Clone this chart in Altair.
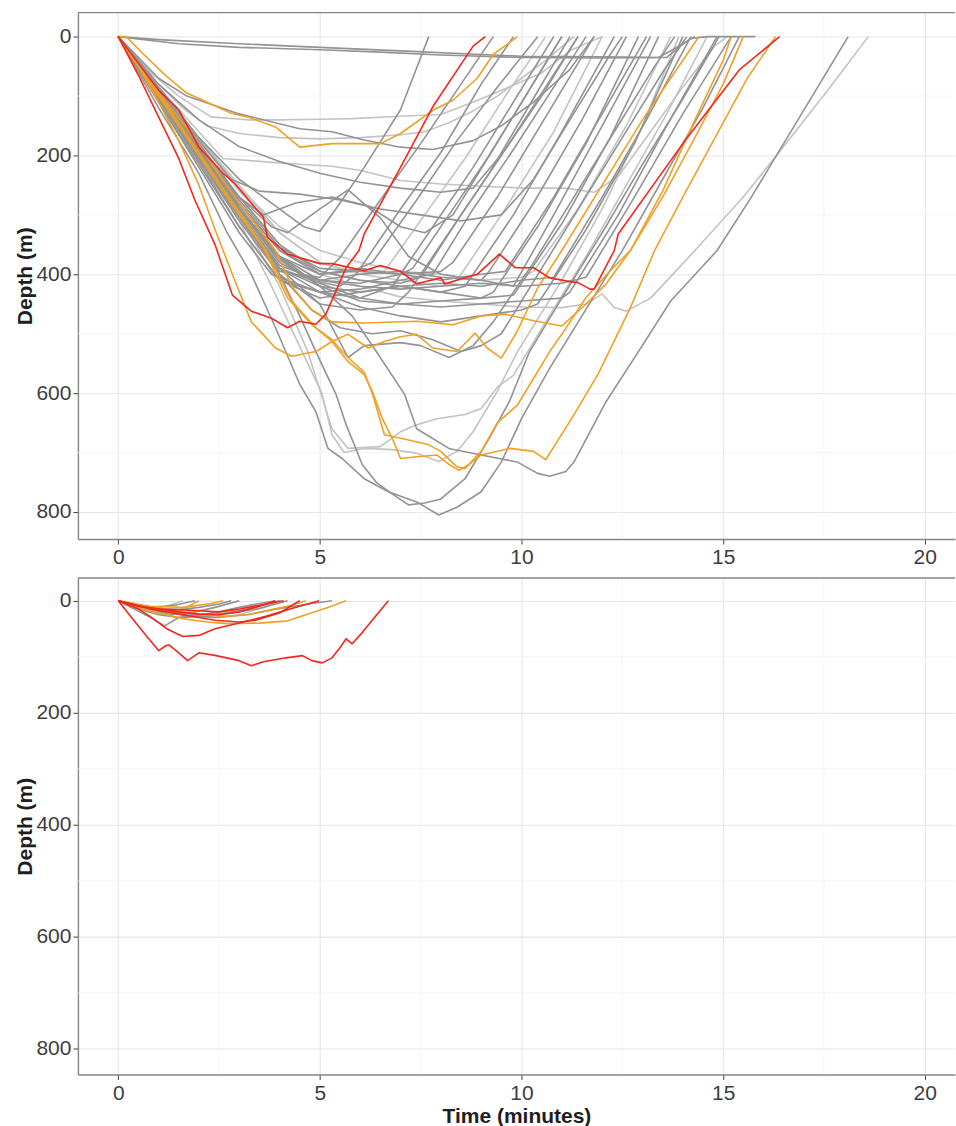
import altair as alt
import pandas as pd

# ---------------- axes / grid values ----------------
x_ticks = [0, 5, 10, 15, 20]
y_ticks = [0, 200, 400, 600, 800]
x_minor = [2.5, 7.5, 12.5, 17.5]
y_minor = [100, 300, 500, 700]
x_domain = [-1.0, 20.75]
y_domain = [-40.5, 845.5]

group_names = ["light", "dark", "orange", "red"]
group_colors = ["#c3c3c3", "#939393", "#efa126", "#f2271d"]

# ---------------- top panel dives: [time (min), depth (m)] ----------------
top_l1 = [[0,0],[0.4,30],[0.8,60],[1.5,100],[2.3,135],[3.2,140],[4.0,140],[5.0,139],[5.8,138],[7.0,134],[8.0,131],[9.0,105],[10.5,61],[11.25,22],[12.0,0]]
top_l2 = [[0,0],[0.5,40],[1.0,80],[1.6,120],[2.2,150],[3.0,163],[4.0,170],[5.0,172],[6.0,170],[7.0,165],[7.6,160],[8.2,145],[8.8,125],[9.4,100],[10.0,70],[10.6,40],[11.3,0]]
top_l3 = [[0,0],[0.5,45],[1.0,85],[2.0,160],[2.6,205],[3.5,210],[4.3,214],[5.3,218],[6.0,225],[7.0,242],[8.0,248],[9.4,253],[10.2,255],[11.1,255],[11.8,262],[12.4,235],[13.2,160],[14.0,85],[14.8,15],[15.1,0]]
top_ldeep1 = [[0,0],[1,105],[2,210],[3,310],[3.8,420],[4.56,530],[5.05,600],[5.3,670],[5.6,700],[6.1,693],[6.8,695],[7.4,701],[7.95,715],[8.4,698],[8.8,665],[9.4,597],[9.9,530],[11.0,410],[12.0,290],[13.0,150],[13.9,0]]
top_ldeep2 = [[0,0],[1,100],[2,200],[3,300],[4,420],[4.7,530],[5.3,660],[5.7,693],[6.5,690],[7.0,665],[7.4,653],[7.9,643],[8.6,636],[9.0,626],[9.4,590],[9.8,570],[10.6,480],[11.6,370],[12.6,250],[13.6,130],[14.6,0]]
top_lfar = [[0,0],[1,90],[2,180],[3,270],[4,350],[5,400],[6,420],[7,438],[8,445],[9,450],[10,455],[11.0,456],[11.6,450],[12.0,433],[12.3,456],[12.6,462],[13.2,440],[13.6,411],[14.3,360],[15.5,270],[16.5,185],[17.6,90],[18.6,0]]
top_lc4 = [[0,0],[1,85],[2,170],[3,250],[4,330],[5,380],[6,400],[6.6,395],[7.6,300],[8.6,205],[9.6,100],[10.6,0]]
top_lc11 = [[0,0],[1,90],[2,175],[3,260],[4,330],[5,380],[6,400],[7,410],[8,420],[8.4,410],[9.5,300],[10.8,160],[12.0,0]]
top_lc17 = [[0,0],[1,85],[2,170],[3,255],[4,320],[5,360],[6,380],[7,395],[8,400],[9,410],[10,405],[10.3,395],[11.4,290],[12.6,150],[13.7,0]]

top_g1 = [[0,0],[1,5],[3,12],[5,18],[7,24],[9,30],[10,33],[12,34],[13.6,35],[13.9,18],[14.2,3],[14.6,0],[15.8,0]]
top_g2 = [[0,0],[1.5,12],[3,18],[5,22],[6.5,26],[8,31],[10,35],[12,36],[13.4,35],[13.8,20],[14.3,0]]
top_e1 = [[0,0],[1,85],[2,170],[3,240],[4,290],[4.6,320],[5.0,328],[5.5,280],[6.1,220],[7.0,123],[7.7,0]]
top_k4 = [[0,0],[1,95],[2,190],[3,270],[3.8,320],[4.2,330],[5.0,290],[5.7,258],[6.5,305],[7.2,370],[8,400],[9,410],[9.8,420],[10.8,300],[12,150],[13.2,0]]
top_k6 = [[0,0],[1,70],[1.7,100],[3,130],[4.5,155],[5.3,160],[6.1,174],[7.0,186],[7.8,190],[8.8,175],[9.5,150],[10.3,110],[11.2,55],[11.8,0]]
top_k7 = [[0,0],[1,80],[2,140],[3,185],[4,210],[5,230],[6,245],[7,255],[8,262],[8.8,255],[9.6,190],[10.5,100],[11.4,0]]
top_k8 = [[0,0],[1,90],[2,175],[2.8,240],[3.5,260],[4.5,265],[5.5,275],[6.5,290],[7.5,300],[8.5,310],[9.5,300],[10.3,240],[11.2,140],[12.2,30],[12.5,0]]
top_k9 = [[0,0],[1,95],[2,190],[3,270],[3.6,300],[4.4,280],[5.3,270],[6.2,285],[7,320],[7.6,330],[8.3,300],[9.2,200],[10.1,100],[11.0,0]]
top_d1 = [[0,0],[1,120],[2,230],[2.7,330],[3.3,400],[3.9,490],[4.5,585],[4.9,631],[5.2,693],[5.55,710],[6.1,744],[6.7,766],[7.4,783],[7.95,805],[8.4,792],[9.0,766],[9.5,716],[10.0,643],[10.7,558],[11.5,470],[12.5,360],[13.5,240],[14.5,120],[15.4,0]]
top_d2 = [[0,0],[1,100],[2,200],[3,300],[4,400],[4.5,470],[4.9,530],[5.4,602],[5.65,653],[6.05,720],[6.4,750],[6.8,770],[7.2,788],[7.6,785],[8.0,778],[8.6,744],[9.2,676],[9.7,614],[10.2,530],[11,440],[12,330],[13,215],[14,105],[14.9,0]]
top_dfar = [[0,0],[1,95],[2,190],[3,290],[4,370],[5,420],[5.8,470],[6.4,530],[7.1,602],[7.4,660],[8.2,693],[9.0,704],[9.9,716],[10.4,735],[10.7,740],[11.1,732],[11.3,716],[12.1,614],[12.9,530],[13.7,445],[14.85,360],[15.7,270],[16.5,180],[17.3,90],[18.1,0]]
top_c1 = [[0,0],[1,95],[2,195],[3,290],[3.8,360],[4.5,400],[5.0,405],[5.5,372],[6.5,275],[7.5,180],[8.5,80],[9.3,0]]
top_c2 = [[0,0],[1,100],[2,200],[3,300],[4,390],[4.8,410],[5.5,420],[5.9,400],[7,290],[8,195],[9,80],[9.8,0]]
top_c3 = [[0,0],[1,90],[2,185],[3,280],[4,360],[5,400],[5.8,395],[6.3,380],[7.4,275],[8.4,175],[9.4,85],[10.4,0]]
top_c5 = [[0,0],[1,105],[2,210],[3,320],[4,410],[5,430],[6,440],[6.8,420],[7.8,320],[8.8,220],[9.8,110],[10.8,0]]
top_c6 = [[0,0],[1,95],[2,190],[3,280],[4,370],[5,410],[6,415],[7,400],[7.3,390],[8.2,300],[9.2,200],[10.1,100],[11.0,0]]
top_c7 = [[0,0],[1,100],[2,200],[3,300],[4,400],[5,450],[6,460],[6.8,455],[7.2,430],[8.2,330],[9.2,230],[10.2,115],[11.2,0]]
top_c8 = [[0,0],[1,90],[2,180],[3,270],[4,350],[5,395],[6,410],[7,415],[7.5,405],[8.5,300],[9.5,200],[10.5,95],[11.4,0]]
top_c9 = [[0,0],[1,110],[2,220],[3,330],[3.8,400],[5,430],[6,425],[7,410],[7.8,400],[8.8,290],[9.8,190],[10.8,85],[11.6,0]]
top_c10 = [[0,0],[1,95],[2,185],[3,275],[4,355],[5,390],[6,395],[7,400],[8,395],[8.3,380],[9.4,270],[10.6,135],[11.8,0]]
top_c12 = [[0,0],[1,100],[2,200],[3,300],[4,390],[5,420],[6,430],[7,420],[8,430],[8.6,420],[9.8,300],[11.0,160],[12.3,0]]
top_c13 = [[0,0],[1,105],[2,205],[3,305],[4,395],[5,410],[6,400],[7,395],[8,405],[9,410],[9.2,395],[10.3,280],[11.5,140],[12.6,0]]
top_c14 = [[0,0],[1,95],[2,190],[3,290],[4,380],[5,415],[6,440],[7,450],[8,445],[9,440],[9.3,430],[10.4,320],[11.6,180],[12.9,0]]
top_c15 = [[0,0],[1,100],[2,195],[3,290],[4,370],[5,400],[6,390],[7,400],[8,410],[9,400],[9.6,395],[10.8,270],[12.0,130],[13.1,0]]
top_c16 = [[0,0],[1,90],[2,185],[3,280],[4,360],[5,395],[6,410],[7,420],[8,430],[9,440],[9.8,435],[11,315],[12.2,170],[13.4,0]]
top_c18 = [[0,0],[1,100],[2,200],[3,300],[4,390],[5,430],[6,455],[7,470],[8,480],[9,470],[10,460],[10.4,450],[11.6,325],[12.8,180],[14.0,0]]
top_c19 = [[0,0],[1,110],[2,215],[3,320],[4,410],[5,440],[6,430],[7,420],[8,415],[9,420],[10,410],[10.8,405],[12.0,270],[13.1,140],[14.2,0]]
top_c21 = [[0,0],[1,95],[2,190],[3,285],[4,375],[5,420],[6,445],[7,450],[8,455],[9,450],[10,445],[11,440],[11.2,430],[12.4,300],[13.6,150],[14.85,0]]
top_c22 = [[0,0],[1,100],[2,200],[3,295],[4,385],[5,410],[6,420],[7,425],[8,420],[9,415],[10,420],[11,415],[11.6,405],[12.8,270],[14,130],[15.2,0]]
top_c24 = [[0,0],[1,100],[2,205],[3,310],[4,400],[4.8,460],[5.5,490],[6.3,500],[7,495],[7.8,510],[8.5,530],[9,520],[9.5,500],[10.5,390],[11.5,280],[12.5,170],[13.5,60],[14.1,0]]
top_c25 = [[0,0],[1,95],[2,195],[3,295],[4,390],[5,450],[5.7,540],[6.1,520],[7,515],[7.5,520],[8.2,540],[8.8,520],[9.3,480],[10.3,380],[11.3,270],[12.3,160],[13.3,50],[13.8,0]]

top_o1 = [[0,0],[0.2,0],[0.6,28],[1.2,67],[1.7,95],[2.8,129],[3.2,135],[3.9,152],[4.5,186],[5.3,180],[6.5,180],[7.0,163],[7.8,124],[8.3,107],[8.9,70],[9.3,30],[9.9,0]]
top_o2 = [[0,0],[0.5,50],[1.0,110],[1.5,175],[2.0,250],[2.43,330],[2.83,400],[3.3,480],[3.67,507],[3.9,524],[4.3,538],[4.9,530],[5.3,513],[5.7,501],[6.2,524],[6.6,513],[7.0,505],[7.4,501],[7.8,524],[8.4,530],[8.85,499],[9.15,524],[9.5,541],[9.9,495],[10.4,423],[11.0,360],[12.0,250],[13.0,140],[13.7,70],[14.4,0]]
top_oh = [[0,0],[0.6,60],[1.68,152],[2.83,264],[3.9,360],[4.3,420],[4.8,460],[5.3,480],[6.1,482],[7.4,479],[8.3,485],[9.0,470],[9.6,467],[10.3,478],[11.0,487],[11.6,450],[12.1,416],[12.7,360],[13.5,260],[14.3,140],[15.0,40],[15.2,0]]
top_op = [[0,0],[1,95],[2,195],[3,295],[3.67,360],[4.3,445],[4.9,490],[5.3,513],[5.7,547],[6.1,569],[6.3,597],[6.55,643],[6.8,677],[7.0,710],[7.4,707],[7.9,704],[8.2,720],[8.45,730],[8.7,720],[9.0,704],[9.7,693],[10.3,698],[10.6,712],[11.25,642],[11.9,568],[12.7,456],[13.3,360],[14.0,270],[14.8,170],[15.6,70],[16.3,0]]
top_or = [[0,0],[1,100],[2,200],[3,300],[3.6,355],[4.2,440],[4.8,485],[5.3,510],[5.7,540],[6.1,565],[6.3,600],[6.6,670],[7.2,679],[7.7,687],[8.0,698],[8.4,724],[8.6,727],[9.0,698],[9.4,650],[9.9,620],[10.7,530],[11.0,501],[11.6,439],[12.2,394],[12.7,360],[13.5,270],[14.3,170],[15.0,80],[15.5,0]]

top_ra = [[0,0],[0.5,65],[1.0,135],[1.5,205],[1.9,275],[2.4,350],[2.83,435],[3.3,462],[3.8,474],[4.2,490],[4.5,479],[4.9,484],[5.15,467],[5.65,389],[5.97,360],[6.1,332],[7.0,220],[7.8,118],[8.8,16],[9.1,0]]
top_rb = [[0,0],[0.5,45],[1.0,90],[1.5,123],[2.0,186],[2.6,230],[2.9,248],[3.6,304],[3.7,338],[4.2,366],[5.0,382],[5.3,382],[6.1,394],[6.5,385],[7.0,395],[7.4,416],[8.0,406],[8.1,416],[8.9,400],[9.45,366],[9.85,389],[10.3,389],[10.7,406],[11.1,411],[11.4,414],[11.7,425],[11.8,425],[12.3,360],[12.4,332],[14.0,180],[15.4,56],[16.4,0]]

top_dives = [
    ("light", top_l1), ("light", top_l2), ("light", top_l3), ("light", top_ldeep1),
    ("light", top_ldeep2), ("light", top_lfar), ("light", top_lc4), ("light", top_lc11),
    ("light", top_lc17),
    ("dark", top_g1), ("dark", top_g2), ("dark", top_e1), ("dark", top_k4), ("dark", top_k6),
    ("dark", top_k7), ("dark", top_k8), ("dark", top_k9), ("dark", top_d1), ("dark", top_d2),
    ("dark", top_dfar), ("dark", top_c1), ("dark", top_c2), ("dark", top_c3), ("dark", top_c5),
    ("dark", top_c6), ("dark", top_c7), ("dark", top_c8), ("dark", top_c9), ("dark", top_c10),
    ("dark", top_c12), ("dark", top_c13), ("dark", top_c14), ("dark", top_c15), ("dark", top_c16),
    ("dark", top_c18), ("dark", top_c19), ("dark", top_c21), ("dark", top_c22), ("dark", top_c24),
    ("dark", top_c25),
    ("orange", top_o1), ("orange", top_o2), ("orange", top_oh), ("orange", top_op), ("orange", top_or),
    ("red", top_ra), ("red", top_rb),
]

# ---------------- bottom panel dives ----------------
bot_r1 = [[0,0],[0.35,32],[0.7,63],[1.0,89],[1.19,80],[1.26,79],[1.5,93],[1.72,107],[2.0,93],[2.43,98],[3.0,107],[3.3,116],[3.6,109],[4.16,102],[4.57,98],[4.8,107],[5.06,111],[5.3,102],[5.48,86],[5.65,68],[5.8,77],[6.05,57],[6.39,27],[6.7,0]]
bot_r2 = [[0,0],[0.5,15],[0.77,27],[1.2,50],[1.6,64],[2.0,62],[2.4,50],[3.0,40],[3.66,28],[4.3,14],[4.98,0]]
bot_r3 = [[0,0],[0.5,10],[1.0,15],[1.5,16],[2.0,18],[2.5,20],[3.0,15],[3.5,8],[4.1,0]]
bot_r4 = [[0,0],[0.7,12],[1.5,20],[2.0,24],[2.5,25],[3.0,20],[3.5,10],[3.9,0]]
bot_r5 = [[0,0],[0.8,15],[1.6,25],[2.4,35],[3.0,38],[3.4,35],[4.0,22],[4.5,0]]
bot_o1 = [[0,0],[0.5,12],[1.0,22],[1.6,32],[2.2,38],[2.7,41],[3.5,40],[4.2,36],[4.65,25],[5.2,12],[5.65,0]]
bot_o2 = [[0,0],[0.7,10],[1.4,18],[2.0,24],[2.6,28],[3.2,25],[3.8,16],[4.3,8],[4.65,0]]
bot_o3 = [[0,0],[0.5,12],[1.0,22],[1.2,25],[1.6,15],[2.0,0]]
bot_o4 = [[0,0],[0.8,10],[1.6,12],[2.3,5],[2.6,0]]
bot_g1 = [[0,0],[0.4,15],[0.8,30],[1.15,45],[1.5,30],[2.0,25],[2.5,20],[3.0,12],[3.5,5],[3.9,0]]
bot_g2 = [[0,0],[0.5,10],[1,15],[1.5,16],[2,12],[2.5,6],[2.8,0]]
bot_g3 = [[0,0],[0.4,10],[0.8,14],[1.2,10],[1.6,0]]
bot_g4 = [[0,0],[0.6,12],[1.2,20],[2.0,25],[2.8,22],[3.5,14],[4.2,0]]
bot_g5 = [[0,0],[0.8,15],[1.6,26],[2.4,30],[3.2,25],[4.0,14],[4.8,5],[5.3,0]]
bot_g6 = [[0,0],[0.5,10],[1.0,18],[1.6,22],[2.2,15],[2.7,6],[3.0,0]]
bot_g7 = [[0,0],[0.5,15],[1.0,25],[1.5,30],[2.2,28],[3.0,18],[3.6,8],[4.0,0]]
bot_g8 = [[0,0],[1,20],[2,28],[2.5,30],[3,25],[3.6,12],[4.0,0]]
bot_g9 = [[0,0],[0.7,15],[1.3,25],[1.8,22],[2.4,12],[3.0,0]]
bot_g10 = [[0,0],[0.4,8],[0.9,12],[1.4,8],[1.9,0]]

bottom_dives = [
    ("light", bot_g3), ("light", bot_g6), ("light", bot_g8),
    ("dark", bot_g1), ("dark", bot_g2), ("dark", bot_g4), ("dark", bot_g5), ("dark", bot_g7),
    ("dark", bot_g9), ("dark", bot_g10),
    ("orange", bot_o1), ("orange", bot_o2), ("orange", bot_o3), ("orange", bot_o4),
    ("red", bot_r1), ("red", bot_r2), ("red", bot_r3), ("red", bot_r4), ("red", bot_r5),
]

# ---------------- build ----------------
W = 878
BORDER = "#858585"
FONT = "Liberation Sans"


def to_frame(dives, tag):
    rows = []
    for k, (grp, pts) in enumerate(dives):
        for i, (t, d) in enumerate(pts):
            rows.append({"dive": f"{tag}{k:02d}", "grp": grp, "t": t, "d": d, "i": i})
    return pd.DataFrame(rows)


def make_panel(df, height, x_title):
    xs = alt.Scale(domain=x_domain, nice=False, zero=False)
    ys = alt.Scale(domain=y_domain, reverse=True, nice=False, zero=False)
    x_axis = alt.Axis(values=x_ticks, title=x_title, labelPadding=3, titlePadding=2,
                      labelFlush=False, format="d", grid=True)
    y_axis = alt.Axis(values=y_ticks, title="Depth (m)", labelPadding=2, titlePadding=0,
                      format="d", grid=True)
    minor_v = alt.Chart(pd.DataFrame({"v": x_minor})).mark_rule(
        color="#f3f3f3", strokeWidth=0.8
    ).encode(x=alt.X("v:Q", scale=xs, axis=x_axis))
    minor_h = alt.Chart(pd.DataFrame({"v": y_minor})).mark_rule(
        color="#f3f3f3", strokeWidth=0.8
    ).encode(y=alt.Y("v:Q", scale=ys, axis=y_axis))
    lines = alt.Chart(df).mark_line(strokeWidth=1.6, strokeJoin="round").encode(
        x=alt.X("t:Q", scale=xs, axis=x_axis),
        y=alt.Y("d:Q", scale=ys, axis=y_axis),
        color=alt.Color("grp:N", scale=alt.Scale(domain=group_names, range=group_colors), legend=None),
        detail="dive:N",
        order=alt.Order("i:Q"),
    )
    top_edge = alt.Chart(pd.DataFrame({"a": [0]})).mark_rule(
        color=BORDER, strokeWidth=1.4
    ).encode(x=alt.value(0), x2=alt.value(W), y=alt.value(0))
    return alt.layer(minor_v, minor_h, lines, top_edge).properties(width=W, height=height)


top = make_panel(to_frame(top_dives, "t"), 527, None)
bottom = make_panel(to_frame(bottom_dives, "b"), 497, "Time (minutes)")

chart = alt.vconcat(top, bottom, spacing=9).properties(
    padding={"left": 14, "top": 11, "right": 0, "bottom": 0},
    background="white",
).configure_view(stroke=None).configure_axis(
    labelFont=FONT, titleFont=FONT,
    labelFontSize=21, labelColor="#3d3d3d",
    titleFontSize=21, titleFontWeight="bold", titleColor="#1e1e1e",
    tickSize=5, tickColor="#3d3d3d", tickWidth=1,
    domainColor=BORDER, domainWidth=1.4,
    gridColor="#e6e6e6", gridWidth=1.1,
)

chart.save("out.html", embed_options={"renderer": "svg", "actions": False})
